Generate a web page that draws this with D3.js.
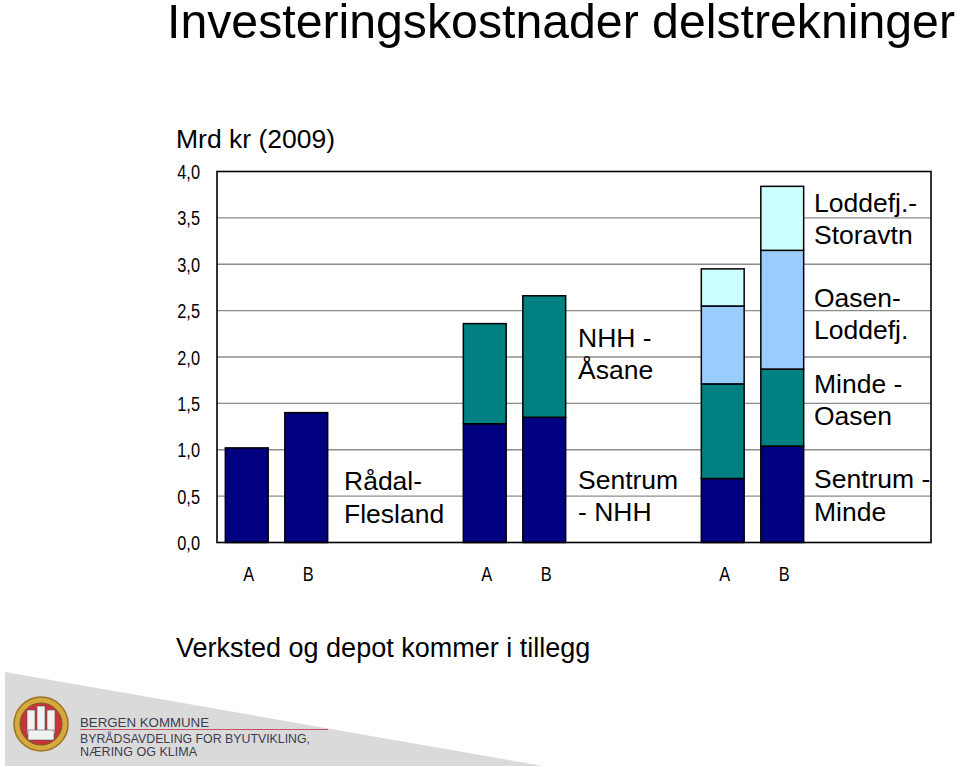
<!DOCTYPE html>
<html>
<head>
<meta charset="utf-8">
<script src="https://cdn.jsdelivr.net/npm/d3@7"></script>
<style>
  body { margin: 0; background: #fff; }
  text { font-family: "Liberation Sans", Arial, sans-serif; fill: #000; }
</style>
</head>
<body>
<script>
// slots on the x axis: two bars per group, then two empty slots for the labels
const slots = ["g1A", "g1B", "g1L1", "g1L2", "g2A", "g2B", "g2L1", "g2L2", "g3A", "g3B", "g3L1", "g3L2"];
const slot_labels = ["A", "B", "", "", "A", "B", "", "", "A", "B", "", ""];
const bar_slots = ["g1A", "g1B", "g2A", "g2B", "g3A", "g3B"];

// stacked levels, bottom to top (Mrd kr)
const level_1 = [1.02, 1.40, 1.28, 1.35, 0.69, 1.04];
const level_2 = [0, 0, 1.08, 1.31, 1.02, 0.83];
const level_3 = [0, 0, 0, 0, 0.84, 1.28];
const level_4 = [0, 0, 0, 0, 0.40, 0.69];
const level_colors = ["#000080", "#008080", "#99ccff", "#ccffff"];

const y_ticks = [0, 0.5, 1, 1.5, 2, 2.5, 3, 3.5, 4];

// segment names written beside the bars
const label_texts = [
    ["Rådal-", "Flesland"],
    ["NHH -", "Åsane"],
    ["Sentrum", "- NHH"],
    ["Loddefj.-", "Storavtn"],
    ["Oasen-", "Loddefj."],
    ["Minde -", "Oasen"],
    ["Sentrum -", "Minde"]
];
const label_slots = ["g1L1", "g2L1", "g2L1", "g3L1", "g3L1", "g3L1", "g3L1"];

const width = 960, height = 767;
const plot = {left: 217, top: 171.5, right: 931, bottom: 542.5};

const svg = d3.select("body").append("svg")
    .attr("width", width)
    .attr("height", height);

// footer band
svg.append("polygon")
    .attr("points", "5,672 543,766 5,766")
    .attr("fill", "#dadada");

const x = d3.scaleBand()
    .domain(slots)
    .range([plot.left, plot.right])
    .paddingInner(0.28)
    .paddingOuter(0.14);

const y = d3.scaleLinear()
    .domain([0, 4])
    .range([plot.bottom, plot.top]);

// gridlines
svg.append("g")
    .selectAll("line")
    .data(y_ticks.slice(1, -1))
    .join("line")
    .attr("x1", plot.left)
    .attr("x2", plot.right)
    .attr("y1", d => y(d))
    .attr("y2", d => y(d))
    .attr("stroke", "#8c8c8c")
    .attr("stroke-width", 1.3);

// bars
const table = bar_slots.map((s, i) => ({slot: s, l1: level_1[i], l2: level_2[i], l3: level_3[i], l4: level_4[i]}));
const stacked = d3.stack().keys(["l1", "l2", "l3", "l4"])(table);

svg.append("g")
    .selectAll("g")
    .data(stacked)
    .join("g")
    .attr("fill", (d, i) => level_colors[i])
    .selectAll("rect")
    .data(d => d.filter(p => p[1] - p[0] > 0))
    .join("rect")
    .attr("x", d => x(d.data.slot))
    .attr("width", x.bandwidth())
    .attr("y", d => y(d[1]))
    .attr("height", d => y(d[0]) - y(d[1]))
    .attr("stroke", "#000")
    .attr("stroke-width", 1.5);

// frame
svg.append("rect")
    .attr("x", plot.left)
    .attr("y", plot.top)
    .attr("width", plot.right - plot.left)
    .attr("height", plot.bottom - plot.top)
    .attr("fill", "none")
    .attr("stroke", "#000")
    .attr("stroke-width", 1.6);

// y axis
const fmt = d => d3.format(".1f")(d).replace(".", ",");
const y_axis = svg.append("g")
    .attr("transform", `translate(${plot.left},0)`)
    .call(d3.axisLeft(y).tickValues(y_ticks).tickFormat(fmt).tickSize(0).tickPadding(0));
y_axis.select(".domain").remove();
y_axis.selectAll("text")
    .attr("x", 0)
    .attr("dy", "0.36em")
    .attr("text-anchor", "end")
    .style("font-size", "19.5px")
    .style("font-family", "'Liberation Sans', Arial, sans-serif")
    .attr("transform", "translate(-17,0) scale(0.84,1)");

// x axis (A / B)
const x_axis = svg.append("g")
    .attr("transform", `translate(0,${plot.bottom})`)
    .call(d3.axisBottom(x).tickFormat((d, i) => slot_labels[i]).tickSize(0).tickPadding(0));
x_axis.select(".domain").remove();
x_axis.selectAll("text")
    .attr("y", 0)
    .attr("dy", 0)
    .style("font-size", "20px")
    .style("font-family", "'Liberation Sans', Arial, sans-serif")
    .attr("transform", "translate(2,38.5) scale(0.82,1)");

// segment labels (first baseline, in axis units)
const label_baselines = [0.566, 2.11, 0.58, 3.566, 2.54, 1.615, 0.585];
const label_offsets = [8, 4, 4, 2, 2, 2, 2];
const labels = svg.append("g").style("font-size", "26.5px");
label_texts.forEach((lines, i) => {
    const lx = x(label_slots[i]) - x.step() * x.paddingInner() / 2 + label_offsets[i];
    const t = labels.append("text")
        .attr("x", lx)
        .attr("y", y(label_baselines[i]));
    lines.forEach((line, j) => {
        t.append("tspan")
            .attr("x", lx)
            .attr("dy", j === 0 ? 0 : 32.5)
            .text(line);
    });
});

// titles
svg.append("text")
    .attr("x", 167)
    .attr("y", 38)
    .style("font-size", "48px")
    .attr("textLength", 788)
    .attr("lengthAdjust", "spacingAndGlyphs")
    .text("Investeringskostnader delstrekninger");

svg.append("text")
    .attr("x", 176)
    .attr("y", 148)
    .style("font-size", "26.5px")
    .text("Mrd kr (2009)");

svg.append("text")
    .attr("x", 176)
    .attr("y", 657)
    .style("font-size", "27px")
    .text("Verksted og depot kommer i tillegg");

// logo
const logo = svg.append("g");
logo.append("circle").attr("cx", 41).attr("cy", 724).attr("r", 27)
    .attr("fill", "#d6a93e").attr("stroke", "#9a7426").attr("stroke-width", 1.5);
logo.append("circle").attr("cx", 41).attr("cy", 724).attr("r", 21)
    .attr("fill", "#c9343c").attr("stroke", "#7a5a1a").attr("stroke-width", 1);
const castle = logo.append("g").attr("fill", "#f2f2f2").attr("stroke", "#555").attr("stroke-width", 0.6);
castle.append("rect").attr("x", 27).attr("y", 710).attr("width", 8).attr("height", 24);
castle.append("rect").attr("x", 37).attr("y", 706).attr("width", 8).attr("height", 28);
castle.append("rect").attr("x", 47).attr("y", 710).attr("width", 8).attr("height", 24);
castle.append("rect").attr("x", 28).attr("y", 730).attr("width", 26).attr("height", 10);

const logo_text = logo.append("g").style("font-family", "'DejaVu Sans', sans-serif").style("font-size", "13px");
logo_text.append("text").attr("x", 80).attr("y", 727).style("fill", "#3d3d52")
    .attr("textLength", 129).attr("lengthAdjust", "spacingAndGlyphs").text("BERGEN KOMMUNE");
logo.append("line").attr("x1", 80).attr("x2", 328).attr("y1", 729.5).attr("y2", 729.5)
    .attr("stroke", "#c85060").attr("stroke-width", 1.2);
logo_text.append("text").attr("x", 80).attr("y", 742.5).style("fill", "#3d3d52")
    .attr("textLength", 230).attr("lengthAdjust", "spacingAndGlyphs").text("BYRÅDSAVDELING FOR BYUTVIKLING,");
logo_text.append("text").attr("x", 80).attr("y", 756).style("fill", "#3d3d52")
    .attr("textLength", 117).attr("lengthAdjust", "spacingAndGlyphs").text("NÆRING OG KLIMA");
</script>
</body>
</html>
